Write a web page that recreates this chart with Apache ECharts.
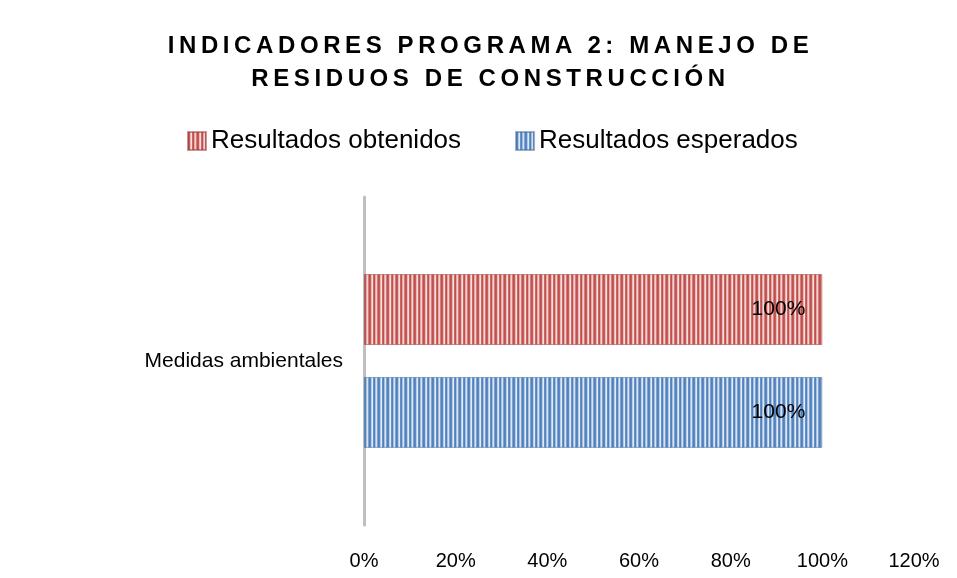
<!DOCTYPE html>
<html>
<head>
<meta charset="utf-8">
<script src="https://cdn.jsdelivr.net/npm/echarts@6/dist/echarts.min.js"></script>
<style>
  html, body { margin: 0; padding: 0; background: #fff; }
  .wrap { position: relative; width: 957px; height: 578px; }
  #chart { width: 957px; height: 578px; }
  .chart-title {
    position: absolute; left: 12px; top: 28px; width: 957px; text-align: center;
    font-family: 'Liberation Sans', Arial, sans-serif; font-size: 24px; line-height: 33px;
    letter-spacing: 4.6px; color: #000; font-weight: bold; pointer-events: none;
  }
</style>
</head>
<body>
<div class="wrap">
  <div id="chart"></div>
  <div class="chart-title">INDICADORES PROGRAMA 2: MANEJO DE<br>RESIDUOS DE CONSTRUCCIÓN</div>
</div>
<script>
const categories = ['Medidas ambientales']
const seriesNames = ['Resultados obtenidos', 'Resultados esperados']
const obtenidos = [100]
const esperados = [100]
const xTicks = [0, 20, 40, 60, 80, 100, 120]

// patrón de rayas verticales
const makeStripes = (colors) => {
  const c = document.createElement('canvas')
  c.width = colors.length
  c.height = 4
  const ctx = c.getContext('2d')
  colors.forEach((col, i) => {
    ctx.fillStyle = col
    ctx.fillRect(i, 0, 1, 4)
  })
  return { image: c, repeat: 'repeat' }
}

const redPattern = makeStripes(['#C0504D', '#C85A57', '#E9B9B8', '#F6E1E0', '#CD6764', '#C0504D', '#E5AAA8', '#F2D3D2', '#D47E7B'])
const bluePattern = makeStripes(['#4F81BD', '#5A8AC4', '#B7CCE6', '#E3ECF6', '#6792C7', '#4F81BD', '#A9C2E2', '#D8E4F2', '#7FA2D0'])

const font = 'Liberation Sans, Arial, sans-serif'

const barLabel = {
  show: true,
  position: 'insideRight',
  distance: 17,
  formatter: '{c}%',
  color: '#000',
  fontSize: 21,
  fontFamily: font
}

const chart = echarts.init(document.getElementById('chart'))

chart.setOption({
  backgroundColor: '#fff',
  animation: false,
  legend: {
    data: seriesNames,
    top: 128,
    left: 187,
    padding: 0,
    itemWidth: 18,
    itemHeight: 18,
    itemGap: 54,
    icon: 'rect',
    textStyle: {
      fontFamily: font,
      fontSize: 26,
      color: '#000'
    }
  },
  grid: {
    left: 364,
    right: 43,
    top: 197,
    bottom: 53,
    containLabel: false
  },
  xAxis: {
    type: 'value',
    min: xTicks[0],
    max: xTicks[xTicks.length - 1],
    interval: xTicks[1] - xTicks[0],
    axisLine: { show: false },
    axisTick: { show: false },
    splitLine: { show: false },
    axisLabel: {
      formatter: '{value}%',
      margin: 26,
      color: '#000',
      fontSize: 20,
      fontFamily: font
    }
  },
  yAxis: {
    type: 'category',
    data: categories,
    axisLine: { show: true, lineStyle: { color: '#BFBFBF', width: 3 } },
    axisTick: { show: false },
    axisLabel: {
      margin: 21,
      color: '#000',
      fontSize: 21,
      fontFamily: font
    }
  },
  series: [
    {
      name: seriesNames[0],
      type: 'bar',
      data: obtenidos,
      barGap: '45%',
      barCategoryGap: '47%',
      itemStyle: { color: redPattern, borderColor: 'rgba(150,50,50,0.5)', borderWidth: 1 },
      label: barLabel
    },
    {
      name: seriesNames[1],
      type: 'bar',
      data: esperados,
      itemStyle: { color: bluePattern, borderColor: 'rgba(60,100,150,0.5)', borderWidth: 1 },
      label: barLabel
    }
  ]
})
</script>
</body>
</html>
